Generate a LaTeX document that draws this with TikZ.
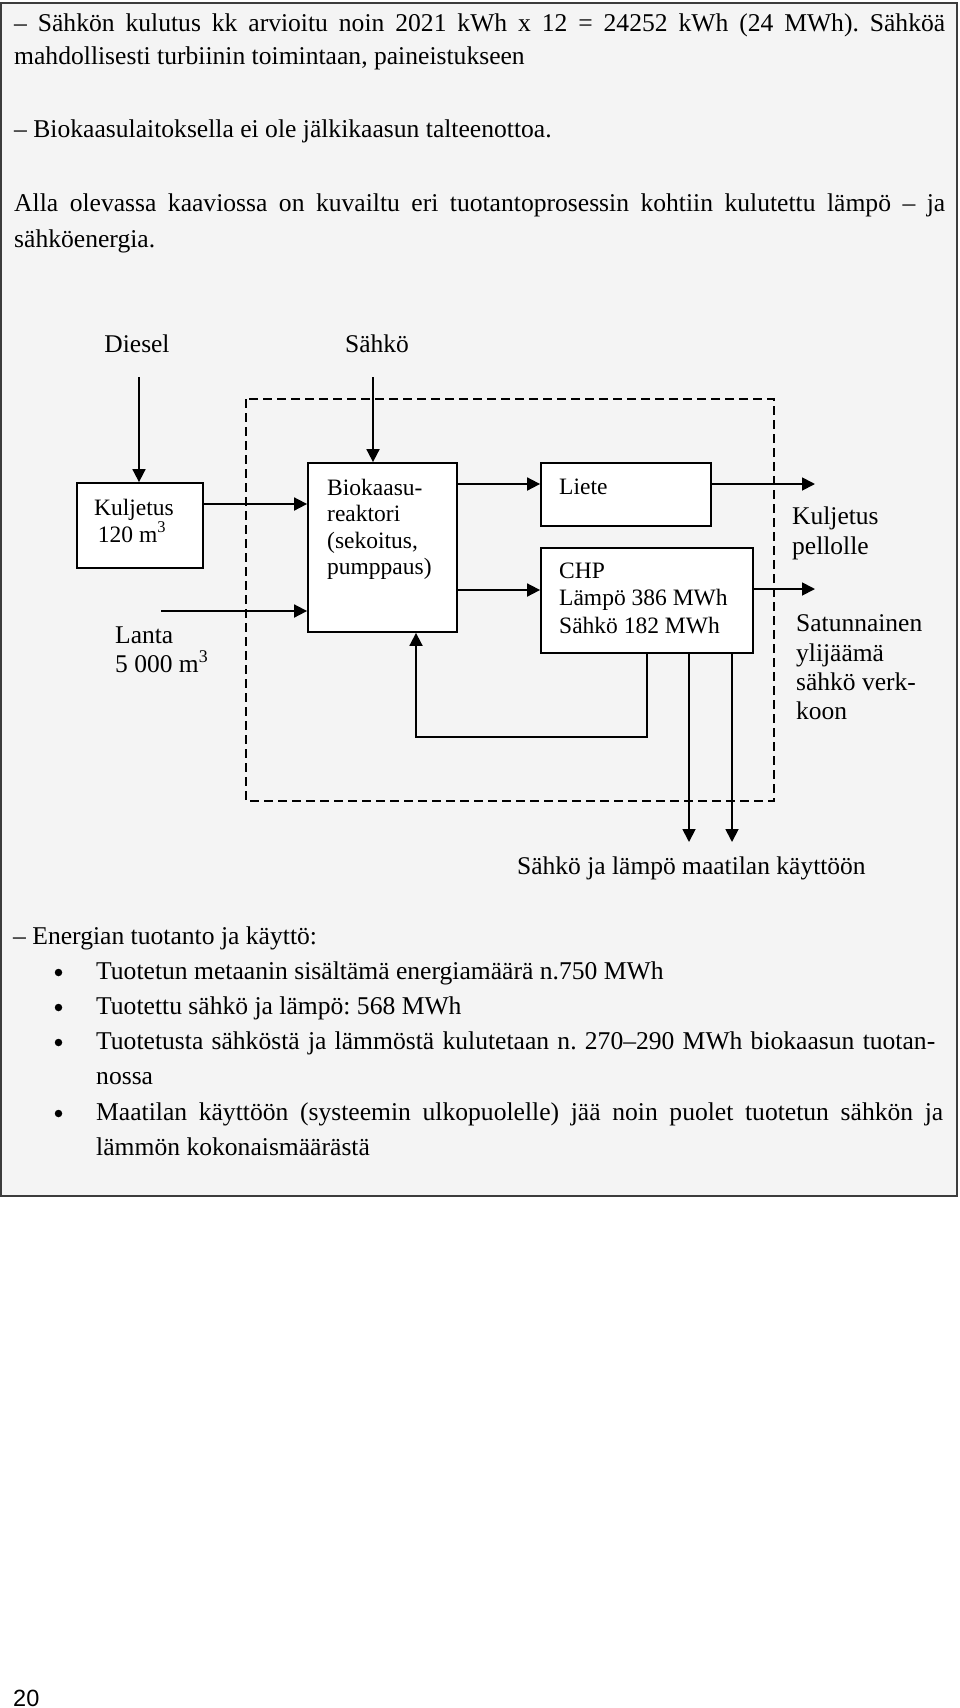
\documentclass[tikz,border=0pt]{standalone}
\usepackage{fontspec}
\setmainfont{Liberation Serif}
\newfontfamily\pagefont{Liberation Sans}
\usetikzlibrary{arrows.meta}
\frenchspacing
\begin{document}
\begin{tikzpicture}[x=1pt, y=-1pt,
    bodytext/.style={anchor=base west, inner sep=0pt, font=\fontsize{25.6}{35}\selectfont},
    labeltext/.style={anchor=base west, inner sep=0pt, font=\fontsize{25.5}{29}\selectfont},
    boxtext/.style={anchor=base west, inner sep=0pt, font=\fontsize{23.5}{27}\selectfont},
    procbox/.style={draw, fill=white, line width=1.8pt, inner sep=0pt},
    bulletdot/.style={circle, fill, inner sep=0pt, minimum size=7.5pt},
    flow/.style={line width=1.8pt, -{Triangle[length=13pt,width=13pt]}},
    systemline/.style={line width=1.8pt, dash pattern=on 9pt off 5pt}]
    \definecolor{page-gray}{HTML}{F4F4F4}
    \definecolor{frame-gray}{HTML}{3C3C3C}
    \useasboundingbox[fill=white] (0,0) rectangle (960,1708);
    \draw[frame-gray, fill=page-gray, line width=1.5pt] (1,3) rectangle (957,1196);
    \node[bodytext] (para1) at (14,31) {\makebox[931pt][s]{– Sähkön kulutus kk arvioitu noin 2021 kWh x 12 = 24252 kWh (24 MWh). Sähköä}};
    \node[bodytext] (para2) at (14,64) {mahdollisesti turbiinin toimintaan, paineistukseen};
    \node[bodytext] (para3) at (14,137) {– Biokaasulaitoksella ei ole jälkikaasun talteenottoa.};
    \node[bodytext] (para4) at (14,211) {\makebox[931pt][s]{Alla olevassa kaaviossa on kuvailtu eri tuotantoprosessin kohtiin kulutettu lämpö – ja}};
    \node[bodytext] (para5) at (14,247) {sähköenergia.};
    \draw[systemline] (246,399) rectangle (774,801);
    \node[labeltext, anchor=base] (diesel) at (137,352) {Diesel};
    \node[labeltext, anchor=base] (sahko) at (377,352) {Sähkö};
    \node[procbox, minimum width=126pt, minimum height=85pt] (kuljetus) at (140,525.5) {};
    \node[procbox, minimum width=149pt, minimum height=169pt] (biokaasu) at (382.5,547.5) {};
    \node[procbox, minimum width=170pt, minimum height=63pt] (liete) at (626,494.5) {};
    \node[procbox, minimum width=212pt, minimum height=105pt] (chp) at (647,600.5) {};
    \node[boxtext, anchor=base] (kuljetusA) at (134,515) {Kuljetus};
    \node[boxtext, anchor=base] (kuljetusB) at (132,542) {120 m\textsuperscript{3}};
    \foreach \yy/\txt [count=\i] in {495/Biokaasu-, 521/reaktori, 548/{(sekoitus,}, 574/pumppaus)}
        \node[boxtext] (bio\i) at (327,\yy) {\txt};
    \node[boxtext] (lieteA) at (559,494) {Liete};
    \foreach \yy/\txt [count=\i] in {578/CHP, 605/Lämpö 386 MWh, 633/Sähkö 182 MWh}
        \node[boxtext] (chp\i) at (559,\yy) {\txt};
    \node[labeltext] (lantaA) at (115,643) {Lanta};
    \node[labeltext] (lantaB) at (115,672) {5 000 m\textsuperscript{3}};
    \node[labeltext] (pelloA) at (792,524) {Kuljetus};
    \node[labeltext] (pelloB) at (792,554) {pellolle};
    \foreach \yy/\txt [count=\i] in {631/Satunnainen, 661/ylijäämä, 690/sähkö verk-, 719/koon}
        \node[labeltext] (verkko\i) at (796,\yy) {\txt};
    \node[labeltext] (maatila) at (517,874) {Sähkö ja lämpö maatilan käyttöön};
    \coordinate (dieselin) at (139,377);
    \coordinate (sahkoin) at (373,377);
    \coordinate (lantain) at (161,611);
    \coordinate (kuljy) at (0,504);
    \coordinate (liety) at (0,484);
    \coordinate (chpy) at (0,590);
    \coordinate (lieteout) at (815,484);
    \coordinate (chpout) at (815,589);
    \coordinate (retA) at (647,737);
    \coordinate (retB) at (416,737);
    \coordinate (useA) at (689,842);
    \coordinate (useB) at (732,842);
    \draw[flow] (dieselin) -- (dieselin |- kuljetus.north);
    \draw[flow] (sahkoin) -- (sahkoin |- biokaasu.north);
    \draw[flow] (kuljetus.east |- kuljy) -- (biokaasu.west |- kuljy);
    \draw[flow] (lantain) -- (lantain -| biokaasu.west);
    \draw[flow] (biokaasu.east |- liety) -- (liete.west |- liety);
    \draw[flow] (biokaasu.east |- chpy) -- (chp.west |- chpy);
    \draw[flow] (liete.east |- lieteout) -- (lieteout);
    \draw[flow] (chp.east |- chpout) -- (chpout);
    \draw[flow] (retA |- chp.south) -- (retA) -- (retB) -- (retB |- biokaasu.south);
    \draw[flow] (useA |- chp.south) -- (useA);
    \draw[flow] (useB |- chp.south) -- (useB);
    \node[bodytext] (energia) at (13,944) {– Energian tuotanto ja käyttö:};
    \foreach \yy/\txt [count=\i] in {979/{Tuotetun metaanin sisältämä energiamäärä n.750 MWh},
        1014/{Tuotettu sähkö ja lämpö: 568 MWh},
        1049/{\makebox[839pt][s]{Tuotetusta sähköstä ja lämmöstä kulutetaan n. 270–290 MWh biokaasun tuotan-}},
        1120/{\makebox[847pt][s]{Maatilan käyttöön (systeemin ulkopuolelle) jää noin puolet tuotetun sähkön ja}}}
    {
        \node[bulletdot] (bullet\i) at (58.5,\yy-6.5) {};
        \node[bodytext] (item\i) at (96,\yy) {\txt};
    }
    \node[bodytext] (item3b) at (96,1084) {nossa};
    \node[bodytext] (item4b) at (96,1155) {lämmön kokonaismäärästä};
    \node[anchor=base west, inner sep=0pt, font=\pagefont\fontsize{23.5}{28}\selectfont] (pagenum) at (13,1706) {20};
\end{tikzpicture}
\end{document}
